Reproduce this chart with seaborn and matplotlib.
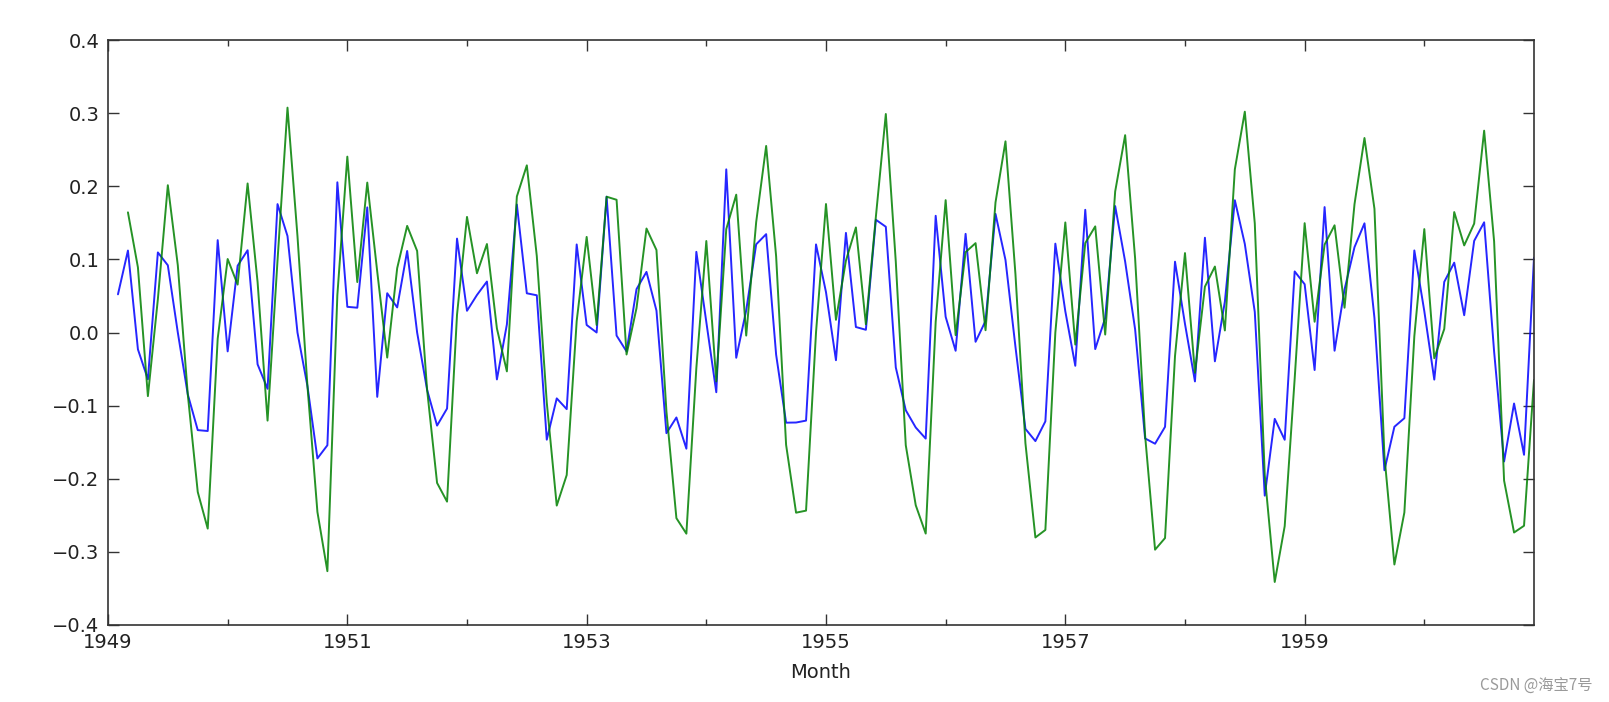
import numpy as np
import pandas as pd
import matplotlib
matplotlib.use("Agg")
import matplotlib.pyplot as plt
import seaborn as sns

# log first difference (blue), Feb 1949 .. Dec 1960
blue_vals = [
    0.0522, 0.1121, -0.0230, -0.0640, 0.1095, 0.0919, 0.0, -0.0846, -0.1335, -0.1347, 0.1263,
    -0.0258, 0.0913, 0.1125, -0.0435, -0.0770, 0.1756, 0.1319, 0.0, -0.0732, -0.1722, -0.1542, 0.2054,
    0.0351, 0.0339, 0.1711, -0.0880, 0.0537, 0.0343, 0.1115, 0.0, -0.0784, -0.1273, -0.1040, 0.1284,
    0.0297, 0.0513, 0.0697, -0.0642, 0.0110, 0.1750, 0.0536, 0.0509, -0.1466, -0.0901, -0.1048, 0.1204,
    0.0103, 0.0, 0.1857, -0.0042, -0.0259, 0.0593, 0.0829, 0.0299, -0.1377, -0.1162, -0.1589, 0.1103,
    0.0148, -0.0817, 0.2231, -0.0346, 0.0304, 0.1206, 0.1345, -0.0303, -0.1233, -0.1231, -0.1205, 0.1205,
    0.0552, -0.0379, 0.1362, 0.0075, 0.0037, 0.1542, 0.1446, -0.0478, -0.1063, -0.1299, -0.1451, 0.1596,
    0.0214, -0.0250, 0.1349, -0.0127, 0.0158, 0.1622, 0.0992, -0.0196, -0.1318, -0.1485, -0.1215, 0.1215,
    0.0290, -0.0455, 0.1678, -0.0227, 0.0199, 0.1729, 0.0970, 0.0043, -0.1449, -0.1521, -0.1290, 0.0968,
    0.0118, -0.0669, 0.1296, -0.0394, 0.0422, 0.1809, 0.1211, 0.0281, -0.2231, -0.1181, -0.1467, 0.0835,
    0.0660, -0.0513, 0.1715, -0.0249, 0.0588, 0.1167, 0.1493, 0.0199, -0.1884, -0.1289, -0.1172, 0.1122,
    0.0292, -0.0644, 0.0692, 0.0955, 0.0236, 0.1253, 0.1507, -0.0261, -0.1764, -0.0971, -0.1672, 0.1023,
]

# two-month log difference (green), Mar 1949 .. Dec 1960
green_vals = [
    0.1643, 0.0891, -0.0870, 0.0455, 0.2014, 0.0919, -0.0846, -0.2181, -0.2682, -0.0084,
    0.1005, 0.0655, 0.2038, 0.0690, -0.1205, 0.0986, 0.3075, 0.1319, -0.0732, -0.2454, -0.3264, 0.0512,
    0.2405, 0.0690, 0.2050, 0.0831, -0.0343, 0.0880, 0.1458, 0.1115, -0.0784, -0.2057, -0.2313, 0.0244,
    0.1581, 0.0810, 0.1210, 0.0055, -0.0532, 0.1860, 0.2286, 0.1045, -0.0957, -0.2367, -0.1949, 0.0156,
    0.1307, 0.0103, 0.1857, 0.1815, -0.0301, 0.0334, 0.1422, 0.1128, -0.1078, -0.2539, -0.2751, -0.0486,
    0.1251, -0.0669, 0.1414, 0.1885, -0.0042, 0.1510, 0.2551, 0.1042, -0.1536, -0.2464, -0.2436, 0.0000,
    0.1757, 0.0173, 0.0983, 0.1437, 0.0112, 0.1579, 0.2988, 0.0968, -0.1541, -0.2362, -0.2750, 0.0145,
    0.1810, -0.0036, 0.1099, 0.1222, 0.0031, 0.1780, 0.2614, 0.0796, -0.1514, -0.2803, -0.2700, 0.0000,
    0.1505, -0.0165, 0.1223, 0.1451, -0.0028, 0.1928, 0.2699, 0.1013, -0.1406, -0.2970, -0.2811, -0.0322,
    0.1086, -0.0551, 0.0627, 0.0902, 0.0028, 0.2231, 0.3020, 0.1492, -0.1950, -0.3412, -0.2648, -0.0632,
    0.1495, 0.0147, 0.1202, 0.1466, 0.0339, 0.1755, 0.2660, 0.1692, -0.1685, -0.3173, -0.2461, -0.0050,
    0.1414, -0.0352, 0.0048, 0.1647, 0.1191, 0.1489, 0.2760, 0.1246, -0.2025, -0.2735, -0.2643, -0.0649,
]

blue_months = pd.period_range("1949-02", "1960-12", freq="M")
green_months = pd.period_range("1949-03", "1960-12", freq="M")
xtick_years = [1949, 1951, 1953, 1955, 1957, 1959]
minor_years = [1950, 1952, 1954, 1956, 1958, 1960]
ytick_vals = [-0.4, -0.3, -0.2, -0.1, 0.0, 0.1, 0.2, 0.3, 0.4]


def frac_year(periods):
    return np.array([p.year + (p.month - 1) / 12.0 for p in periods])


blue_df = pd.DataFrame({"Month": frac_year(blue_months), "value": blue_vals})
green_df = pd.DataFrame({"Month": frac_year(green_months), "value": green_vals})

sns.set_theme(style="white")
plt.rcParams["font.family"] = ["DejaVu Sans"]

fig = plt.figure(figsize=(16.09, 7.02), dpi=100)
ax = fig.add_axes([108 / 1609, 1 - 625 / 702, (1534 - 108) / 1609, (625 - 40) / 702])

sns.lineplot(data=blue_df, x="Month", y="value", ax=ax, color=(0, 0, 1), linewidth=1.4, alpha=0.85)
sns.lineplot(data=green_df, x="Month", y="value", ax=ax, color=(0, 0.5, 0), linewidth=1.4, alpha=0.85)

ax.set_xlim(1949, 1949 + 143 / 12.0)
ax.set_ylim(-0.4, 0.4)
ax.set_xticks(xtick_years)
ax.set_xticklabels([str(y) for y in xtick_years])
ax.set_xticks(minor_years, minor=True)
ax.set_yticks(ytick_vals)
ax.set_yticklabels([f"{v:.1f}".replace("-", "\u2212") for v in ytick_vals])

for s in ax.spines.values():
    s.set_visible(True)
    s.set_color("#333333")
    s.set_linewidth(1.2)

ax.tick_params(axis="both", which="major", direction="in", length=8, width=1,
               color="#333333", labelsize=14, labelcolor="#222222",
               top=True, right=True, bottom=True, left=True, pad=6)
ax.tick_params(axis="x", which="minor", direction="in", length=4, width=1,
               color="#333333", top=True, bottom=True)
ax.set_ylabel("")
ax.set_xlabel("Month", fontsize=14, color="#222222", labelpad=8)

fig.text(1593 / 1609, 1 - 685 / 702, "CSDN @海宝7号", ha="right", va="center",
         fontsize=11, color="#9a9a9a", family=["Noto Sans CJK SC", "DejaVu Sans"])

fig.savefig("out.png", dpi=100)
